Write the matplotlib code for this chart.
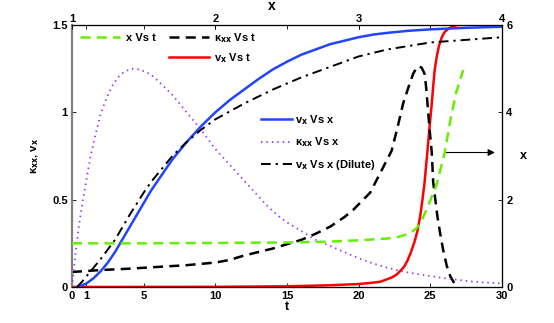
import numpy as np
import matplotlib.pyplot as plt
from matplotlib.lines import Line2D

plt.rcParams['font.family'] = ['Liberation Sans', 'DejaVu Sans']
plt.rcParams['font.weight'] = 'bold'
plt.rcParams['mathtext.default'] = 'bf'
plt.rcParams['font.size'] = 8

# v_x vs t (red)
t_red = [0, 10, 15, 18, 20, 21, 21.5, 22, 22.4, 22.7, 23.0, 23.2, 23.4, 23.65, 23.9, 24.1, 24.3, 24.45, 24.6,
         24.7, 24.8, 24.95, 25.1, 25.2, 25.3, 25.45, 25.6, 25.8, 26.0, 26.2, 26.5, 26.9, 27.2]
v_red = [0, 0.001, 0.004, 0.01, 0.017, 0.025, 0.03, 0.045, 0.058, 0.075, 0.1, 0.12, 0.15, 0.2, 0.26, 0.32,
         0.41, 0.5, 0.6, 0.69, 0.78, 0.92, 1.05, 1.15, 1.24, 1.32, 1.38, 1.43, 1.46, 1.475, 1.49, 1.5, 1.51]

# kappa_xx vs t (black dashed)
t_kap = [0, 2, 4, 6, 8, 10, 11, 12, 13, 14, 15, 16, 17, 18, 19, 19.6, 20.2, 20.8, 21.3, 21.8, 22.3, 22.7,
         23.1, 23.5, 23.8, 24.0, 24.2, 24.4, 24.6, 24.7, 24.8, 24.95, 25.1, 25.2, 25.35, 25.5, 25.7, 25.9,
         26.15, 26.4, 26.65, 26.9]
k_kap = [0.086, 0.097, 0.105, 0.115, 0.125, 0.14, 0.155, 0.18, 0.2, 0.22, 0.245, 0.27, 0.305, 0.345, 0.4,
         0.44, 0.49, 0.54, 0.62, 0.7, 0.78, 0.91, 1.05, 1.15, 1.22, 1.25, 1.265, 1.255, 1.22, 1.15, 1.05, 0.9,
         0.77, 0.6, 0.5, 0.4, 0.3, 0.21, 0.12, 0.06, 0.025, 0.0]

# x vs t (green dashed, right axis)
t_grn = [0, 5, 10, 15, 18, 20, 21, 22, 22.7, 23.2, 23.6, 23.9, 24.1, 24.3, 24.5, 24.65, 24.8, 25.0, 25.2,
         25.35, 25.5, 25.75, 26.0, 26.2, 26.4, 26.6, 26.8, 27.05, 27.3]
x_grn = [1.0, 1.0, 1.01, 1.02, 1.04, 1.07, 1.09, 1.11, 1.14, 1.19, 1.24, 1.31, 1.37, 1.46, 1.6, 1.71, 1.83,
         1.98, 2.15, 2.27, 2.42, 2.75, 3.07, 3.45, 3.82, 4.13, 4.45, 4.72, 4.97]

# v_x vs x (blue)
x_blu = [1.04, 1.1, 1.15, 1.2, 1.25, 1.3, 1.35, 1.4, 1.45, 1.5, 1.55, 1.6, 1.65, 1.7, 1.75, 1.8, 1.85,
         1.9, 1.95, 2.0, 2.1, 2.2, 2.3, 2.4, 2.5, 2.6, 2.7, 2.8, 2.9, 3.0, 3.1, 3.2, 3.35, 3.5, 3.75, 4.0]
v_blu = [0.0, 0.02, 0.05, 0.09, 0.14, 0.2, 0.27, 0.34, 0.41, 0.48, 0.55, 0.61, 0.67, 0.73, 0.78, 0.83,
         0.875, 0.92, 0.96, 1.0, 1.07, 1.13, 1.19, 1.245, 1.29, 1.33, 1.36, 1.39, 1.41, 1.43, 1.445, 1.455,
         1.467, 1.475, 1.484, 1.49]

# kappa_xx vs x (purple dotted)
x_pur = [1.0, 1.01, 1.02, 1.03, 1.05, 1.07, 1.09, 1.11, 1.13, 1.16, 1.2, 1.24, 1.28, 1.32, 1.36, 1.4, 1.43,
         1.47, 1.52, 1.56, 1.6, 1.65, 1.7, 1.75, 1.8, 1.85, 1.9, 1.95, 2.0, 2.05, 2.1, 2.15, 2.2, 2.25, 2.3,
         2.35, 2.4, 2.45, 2.5, 2.6, 2.7, 2.8, 2.9, 3.0, 3.1, 3.2, 3.3, 3.4, 3.6, 3.8, 4.0]
k_pur = [0.0, 0.08, 0.16, 0.23, 0.36, 0.47, 0.56, 0.66, 0.75, 0.86, 0.99, 1.08, 1.15, 1.2, 1.23, 1.245, 1.25,
         1.245, 1.23, 1.21, 1.18, 1.14, 1.1, 1.05, 1.0, 0.95, 0.9, 0.845, 0.79, 0.745, 0.7, 0.655, 0.61, 0.565,
         0.52, 0.475, 0.435, 0.4, 0.37, 0.32, 0.27, 0.235, 0.2, 0.165, 0.135, 0.11, 0.09, 0.075, 0.05, 0.03,
         0.02]

# v_x vs x, dilute (black dash-dot)
x_dil = [1.035, 1.07, 1.1, 1.15, 1.2, 1.25, 1.3, 1.35, 1.4, 1.45, 1.5, 1.55, 1.6, 1.65, 1.7, 1.75, 1.8, 1.85,
         1.9, 1.95, 2.0, 2.1, 2.2, 2.3, 2.4, 2.5, 2.6, 2.7, 2.8, 2.9, 3.0, 3.1, 3.2, 3.35, 3.5, 3.75, 4.0]
v_dil = [0.0, 0.03, 0.06, 0.11, 0.16, 0.215, 0.27, 0.34, 0.41, 0.475, 0.54, 0.6, 0.65, 0.7, 0.75, 0.79, 0.83,
         0.865, 0.9, 0.93, 0.96, 1.005, 1.05, 1.09, 1.13, 1.165, 1.2, 1.23, 1.26, 1.29, 1.32, 1.34, 1.36, 1.38,
         1.40, 1.415, 1.43]

t_ticks = [0, 1, 5, 10, 15, 20, 25, 30]
x_ticks = [1, 2, 3, 4]
left_ticks = [0, 0.5, 1, 1.5]
right_ticks = [0, 2, 4, 6]

c_green = '#66ee00'
c_blue = '#2244ff'
c_purple = '#9933ff'

fig = plt.figure(figsize=(5.54, 3.23), dpi=100)
ax = fig.add_axes([72 / 554, 36 / 323, 430 / 554, 262 / 323])
ax_top = ax.twiny()
ax_r = ax.twinx()

l_red, = ax.plot(t_red, v_red, color='red', lw=1.8)
l_kap, = ax.plot(t_kap, k_kap, color='black', lw=1.8, dashes=(4, 2.5))
l_grn, = ax_r.plot(t_grn, x_grn, color=c_green, lw=1.8, dashes=(4, 2.5))
l_blu, = ax_top.plot(x_blu, v_blu, color=c_blue, lw=1.8)
l_pur, = ax_top.plot(x_pur, k_pur, color=c_purple, lw=1.3, linestyle=(0, (0.8, 2.2)))
l_dil, = ax_top.plot(x_dil, v_dil, color='black', lw=1.4, dashes=(5, 2.5, 1.2, 2.5))

ax.set_xlim(0, 30)
ax.set_ylim(0, 1.5)
ax_top.set_xlim(1, 4)
ax_r.set_ylim(0, 6)

ax.set_xticks(t_ticks)
ax.set_yticks(left_ticks)
ax.set_yticklabels(['0', '0.5', '1', '1.5'])
ax_top.set_xticks(x_ticks)
ax_r.set_yticks(right_ticks)

ax.tick_params(direction='in', length=3, width=0.6, top=True, labelsize=8, pad=3)
ax_top.tick_params(direction='in', length=3, width=0.6, labelsize=8, pad=1)
ax_r.tick_params(direction='in', length=3, width=0.6, labelsize=8, pad=3)
for a in (ax, ax_top, ax_r):
    for lab in a.get_xticklabels() + a.get_yticklabels():
        lab.set_fontweight('bold')
    for s in a.spines.values():
        s.set_linewidth(0.8)
ax.spines['left'].set_color('#808080')
ax.spines['left'].set_linewidth(1.6)
ax_top.spines['left'].set_visible(False)
ax_r.spines['left'].set_visible(False)
ax_top.spines['top'].set_color('#404040')

ax.set_xlabel('t', fontsize=9, fontweight='bold', labelpad=0)
ax.set_ylabel(r'κ$_{xx}$, v$_x$', fontsize=8, fontweight='bold', labelpad=8)
ax_top.set_xlabel('x', fontsize=10, fontweight='bold')
ax_top.xaxis.set_label_coords(200 / 430, 1 + 15 / 262)
ax_r.set_ylabel('x', fontsize=9, fontweight='bold', rotation=0, labelpad=8, va='center')

ax.annotate('', xy=(29.7, 0.77), xytext=(25.9, 0.77),
            arrowprops=dict(arrowstyle='-|>', color='black', lw=0.8, mutation_scale=10))

blank = Line2D([], [], color='none')
fig.legend([l_grn, blank, l_kap, l_red], ['x Vs t', '', r'κ$_{xx}$ Vs t', r'v$_x$ Vs t'],
           ncol=2, loc='upper left', bbox_to_anchor=(80 / 554, 1 - 31 / 323), frameon=False,
           handlelength=3.6, handletextpad=0.5, labelspacing=0.55, columnspacing=1.2,
           borderpad=0, borderaxespad=0, prop={'size': 8, 'weight': 'bold'})
fig.legend([l_blu, l_pur, l_dil], [r'v$_x$ Vs x', r'κ$_{xx}$ Vs x', r'v$_x$ Vs x (Dilute)'],
           loc='upper left', bbox_to_anchor=(261 / 554, 1 - 113 / 323), frameon=False,
           handlelength=2.8, handletextpad=0.3, labelspacing=0.8,
           borderpad=0, borderaxespad=0, prop={'size': 8, 'weight': 'bold'})

fig.savefig('out.png', dpi=100)
